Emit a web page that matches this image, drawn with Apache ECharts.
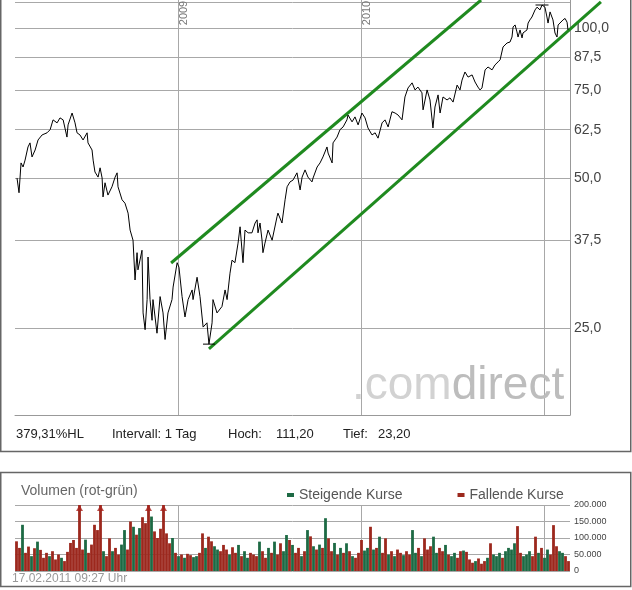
<!DOCTYPE html>
<html><head><meta charset="utf-8">
<script src="https://cdn.jsdelivr.net/npm/echarts@6/dist/echarts.min.js"></script>
<style>html,body{margin:0;padding:0;background:#fff}#c{width:632px;height:590px}</style>
</head><body><div id="c"></div>
<script>
// ---- price series (decimal year, price) ----
const priceYears = [
2008.120,2008.131,2008.142,2008.153,2008.164,2008.180,2008.191,2008.202,2008.219,2008.235,
2008.257,2008.284,2008.301,2008.317,2008.339,2008.355,2008.372,2008.393,2008.399,2008.421,
2008.437,2008.448,2008.464,2008.481,2008.503,2008.508,2008.530,2008.536,2008.546,2008.563,
2008.574,2008.585,2008.590,2008.601,2008.617,2008.639,2008.656,2008.667,2008.672,2008.694,
2008.710,2008.727,2008.738,2008.754,2008.765,2008.776,2008.781,2008.803,2008.809,2008.820,
2008.831,2008.836,2008.847,2008.858,2008.863,2008.885,2008.902,2008.918,2008.929,2008.945,
2008.967,2008.973,2008.995,2009.005,2009.022,2009.038,2009.055,2009.077,2009.082,2009.104,
2009.120,2009.137,2009.158,2009.169,2009.186,2009.191,2009.213,2009.240,2009.257,2009.268,
2009.284,2009.295,2009.311,2009.328,2009.339,2009.355,2009.366,2009.383,2009.404,2009.421,
2009.432,2009.437,2009.448,2009.459,2009.464,2009.475,2009.492,2009.514,2009.541,2009.546,
2009.568,2009.585,2009.596,2009.612,2009.628,2009.650,2009.667,2009.678,2009.694,2009.710,
2009.732,2009.738,2009.760,2009.776,2009.792,2009.814,2009.820,2009.842,2009.847,2009.869,
2009.885,2009.902,2009.923,2009.929,2009.951,2009.967,2009.984,2010.005,2010.022,2010.038,
2010.060,2010.077,2010.093,2010.115,2010.131,2010.148,2010.169,2010.186,2010.202,2010.224,
2010.240,2010.257,2010.279,2010.295,2010.311,2010.333,2010.339,2010.361,2010.377,2010.393,
2010.404,2010.421,2010.432,2010.448,2010.470,2010.486,2010.503,2010.525,2010.541,2010.552,
2010.568,2010.585,2010.607,2010.623,2010.639,2010.650,2010.661,2010.678,2010.694,2010.716,
2010.732,2010.749,2010.760,2010.776,2010.798,2010.814,2010.825,2010.831,2010.842,2010.852,
2010.858,2010.869,2010.880,2010.885,2010.907,2010.913,2010.923,2010.934,2010.951,2010.962,
2010.978,2010.989,2011.005,2011.016,2011.022,2011.033,2011.049,2011.060,2011.071,2011.077,
2011.087,2011.104,2011.115,2011.126,2011.131
];
const priceValues = [
50.0,46.7,53.6,52.6,54.3,57.7,58.8,55.1,56.9,59.6,
61.0,61.6,62.5,65.4,64.5,66.0,65.4,60.4,63.9,67.5,
64.5,61.6,61.0,59.6,61.6,58.8,56.9,54.3,51.4,50.2,
52.4,50.0,45.8,48.9,46.2,48.0,50.2,51.2,48.0,45.2,
44.5,42.5,39.3,37.5,31.2,35.4,32.7,35.8,26.8,24.8,
28.5,34.7,28.5,25.9,28.5,24.4,28.9,26.8,23.7,26.8,
28.5,30.2,33.8,33.1,28.9,26.3,28.5,29.8,28.5,31.6,
28.9,25.1,25.6,23.2,25.6,28.5,26.8,27.6,29.8,28.5,
32.2,34.2,33.8,37.0,39.9,33.8,39.3,38.8,38.8,40.6,
41.2,38.8,40.6,37.5,35.4,37.0,39.3,37.5,41.8,42.5,
40.6,45.2,48.0,49.1,49.5,51.2,47.3,50.2,51.9,50.2,
49.1,50.0,52.6,53.6,55.1,57.7,56.1,53.6,58.8,60.4,
62.5,63.3,65.4,66.9,64.8,66.3,63.9,67.5,66.0,63.0,
61.0,61.6,60.1,64.5,65.4,63.3,67.9,67.5,66.9,65.4,
72.7,75.8,77.6,75.1,76.1,74.1,68.5,75.1,71.7,63.0,
69.4,73.4,67.5,72.7,71.7,72.4,71.0,76.8,75.1,78.6,
81.6,79.7,80.5,77.9,76.1,75.1,75.8,82.4,83.5,82.4,
84.3,85.5,86.3,91.6,93.3,93.7,95.9,100.5,101.4,98.2,
95.9,99.1,95.5,97.7,99.1,102.3,103.8,105.2,108.7,110.1,
108.7,111.2,110.1,105.2,102.3,107.7,103.8,97.7,95.9,101.4,
100.5,103.8,104.5,102.7,99.1
];
// trend channel endpoints (decimal year, price)
const upperChannel = [[2008.962, 33.75], [2010.656, 113.8]];
const lowerChannel = [[2009.169, 22.69], [2011.311, 112.8]];

// axes
const xMin = 2008.109, xMax = 2011.142;
const yearTicks = [2009, 2010, 2011];
const yearLabels = ['2009', '2010'];
const yMin = 16.72, yMax = 113.8;
const priceGridTicks = [25, 37.5, 50, 62.5, 75, 87.5, 100, 112.5];
const priceLabelTicks = [25, 37.5, 50, 62.5, 75, 87.5, 100];
const volTicksMax = 200; // thousands

// ---- volume (thousands), roughly every 3 trading days ----
const volumes = [
90,70,140,55,74,45,69,89,64,40,
55,45,60,35,50,40,30,58,85,94,
70,250,65,95,55,80,140,124,250,60,
45,99,60,70,50,80,124,65,150,134,
110,130,163,145,250,165,120,100,128,250,
114,84,100,55,45,50,40,52,48,42,
45,55,114,70,104,90,75,65,60,79,
65,50,72,55,79,45,60,40,55,50,
45,89,60,40,70,55,89,50,84,60,
109,94,79,55,70,45,60,124,105,75,
65,80,70,160,99,60,85,50,70,55,
84,60,45,40,55,94,62,70,134,65,
70,104,55,99,50,60,45,65,55,48,
60,50,124,55,70,45,99,65,75,104,
55,70,60,79,50,45,55,40,60,62,
58,35,25,30,38,22,30,40,84,50,
45,55,40,60,70,65,84,136,55,45,
50,60,45,104,55,70,40,65,50,139,
75,60,55,45,30
];
// u = steigend (rising), d = fallend (falling)
const volumeDirs = [
"dduddududd","dudddudddd","dddudddddu","ddudduuddu","dudddudddd",
"ddudududdu","uddudduudd","dudduduudd","duddududdu","ududdududu",
"dududdudud","ududdduudu","duddududdu","dduududddu","udduduuddu",
"dddudddudu","uuduuuuddu","uudduduudd","duudd"
].join('');

const FONT = '"Liberation Sans", Arial, sans-serif';
const priceData = priceYears.map((y, i) => [y, priceValues[i]]);
const volCats = volumes.map((v, i) => 'w' + i);
const upVol = volumes.map((v, i) => volumeDirs[i] === 'u' ? v : '-');
const downVol = volumes.map((v, i) => volumeDirs[i] !== 'u' ? v : '-');
const arrowVol = volumes.map(v => v > volTicksMax ? volTicksMax : '-');
const hoch = Math.max(...priceValues), tief = Math.min(...priceValues);
const de = (v, d) => v.toFixed(d).replace('.', ',');
const hlPct = de((hoch / tief - 1) * 100, 2) + '%HL';

// layout of the price plot (px) and an overlay plot that extends further right
const plotLeft = 15, plotRight = 570, overlayRight = 612;
const pxPerYear = (plotRight - plotLeft) / (xMax - xMin);
const xMaxOverlay = xMin + (overlayRight - plotLeft) / pxPerYear;

const chart = echarts.init(document.getElementById('c'));
const gridLine = { show: true, lineStyle: { color: '#a8a8a8', width: 1 } };
const hidden = { axisLine: { show: false }, axisTick: { show: false }, axisLabel: { show: false }, splitLine: { show: false } };
const option = {
  animation: false,
  backgroundColor: '#fff',
  textStyle: { fontFamily: FONT },
  grid: [
    { left: plotLeft, right: 632 - plotRight, top: 0, height: 415 },
    { left: plotLeft, right: 632 - plotRight, top: 505, height: 66 },
    { left: plotLeft, right: 632 - overlayRight, top: 0, height: 415 }
  ],
  legend: {
    left: 282, top: 483, icon: 'rect', itemWidth: 7, itemHeight: 4, itemGap: 55,
    selectedMode: false,
    data: ['Steigende Kurse', 'Fallende Kurse'],
    textStyle: { fontSize: 14, color: '#555', fontFamily: FONT }
  },
  xAxis: [
    { type: 'value', gridIndex: 0, min: xMin, max: xMax,
      axisLine: { show: true, onZero: false, lineStyle: { color: '#999' } },
      axisTick: { show: false, customValues: yearTicks },
      axisLabel: { show: false }, splitLine: gridLine },
    { type: 'category', gridIndex: 1, data: volCats, boundaryGap: true, ...hidden },
    { type: 'value', gridIndex: 1, min: xMin, max: xMax,
      axisLine: { show: false }, axisTick: { show: false, customValues: yearTicks },
      axisLabel: { show: false }, splitLine: gridLine },
    { type: 'value', gridIndex: 2, min: xMin, max: xMaxOverlay, ...hidden }
  ],
  yAxis: [
    { type: 'log', gridIndex: 0, position: 'right', min: yMin, max: yMax,
      axisLine: { show: true, lineStyle: { color: '#999' } },
      axisTick: { show: false, customValues: priceGridTicks },
      axisLabel: { customValues: priceLabelTicks, margin: 4, color: '#444', fontSize: 14, fontFamily: FONT,
        formatter: v => de(v, 1) },
      splitLine: gridLine },
    { type: 'value', gridIndex: 1, position: 'right', min: 0, max: volTicksMax, interval: 50,
      axisLine: { show: false }, axisTick: { show: false },
      axisLabel: { margin: 4, color: '#444', fontSize: 9, fontFamily: FONT,
        formatter: v => v === 0 ? '0' : v + '.000' },
      splitLine: gridLine },
    { type: 'log', gridIndex: 2, min: yMin, max: yMax, ...hidden }
  ],
  series: [
    { type: 'line', name: 'Kurs', xAxisIndex: 0, yAxisIndex: 0, data: priceData,
      showSymbol: false, symbol: 'none', lineStyle: { color: '#000', width: 1 }, z: 5,
      markPoint: { symbol: 'rect', silent: true, label: { show: false },
        itemStyle: { color: '#000' },
        data: [ { type: 'max', symbolSize: [13, 1] }, { type: 'min', symbolSize: [12, 1] } ] } },
    { type: 'line', name: 'oben', xAxisIndex: 3, yAxisIndex: 2, data: upperChannel, clip: false,
      showSymbol: false, symbol: 'none', lineStyle: { color: '#1f8a1f', width: 3 }, z: 4 },
    { type: 'line', name: 'unten', xAxisIndex: 3, yAxisIndex: 2, data: lowerChannel, clip: false,
      showSymbol: false, symbol: 'none', lineStyle: { color: '#1f8a1f', width: 3 }, z: 4 },
    { type: 'bar', name: 'Steigende Kurse', xAxisIndex: 1, yAxisIndex: 1, data: upVol,
      barWidth: 2.8, barGap: '-100%', itemStyle: { color: '#1d6a44' } },
    { type: 'bar', name: 'Fallende Kurse', xAxisIndex: 1, yAxisIndex: 1, data: downVol,
      barWidth: 2.8, barGap: '-100%', itemStyle: { color: '#9c281d' } },
    { type: 'scatter', name: 'Pfeil', xAxisIndex: 1, yAxisIndex: 1, data: arrowVol,
      symbol: 'triangle', symbolSize: [7, 6], symbolOffset: [0, 3], itemStyle: { color: '#a8231d' }, z: 6 }
  ]
};
chart.setOption(option);

const graphics = [
  { type: 'rect', shape: { x: 0.75, y: -5, width: 630, height: 456.5 }, style: { fill: null, stroke: '#666', lineWidth: 1.5 }, silent: true },
  { type: 'rect', shape: { x: 0.75, y: 472.5, width: 630, height: 114 }, style: { fill: null, stroke: '#666', lineWidth: 1.5 }, silent: true },
  { type: 'text', x: 352, y: 386, z: 0, silent: true,
    style: { text: '{a|.com}{b|direct}', verticalAlign: 'middle',
      rich: { a: { fontSize: 46, fill: '#d2d2d2', fontFamily: FONT }, b: { fontSize: 46, fill: '#bdbdbd', fontFamily: FONT } } } },
  { type: 'text', x: 16, y: 434, style: { text: hlPct, font: '13px ' + FONT, fill: '#222', verticalAlign: 'middle' } },
  { type: 'text', x: 112, y: 434, style: { text: 'Intervall: 1 Tag', font: '13px ' + FONT, fill: '#222', verticalAlign: 'middle' } },
  { type: 'text', x: 228, y: 434, style: { text: 'Hoch:', font: '13px ' + FONT, fill: '#222', verticalAlign: 'middle' } },
  { type: 'text', x: 276, y: 434, style: { text: de(hoch, 2), font: '13px ' + FONT, fill: '#222', verticalAlign: 'middle' } },
  { type: 'text', x: 343, y: 434, style: { text: 'Tief:', font: '13px ' + FONT, fill: '#222', verticalAlign: 'middle' } },
  { type: 'text', x: 378, y: 434, style: { text: de(tief, 2), font: '13px ' + FONT, fill: '#222', verticalAlign: 'middle' } },
  { type: 'text', x: 21, y: 491, style: { text: 'Volumen (rot-grün)', font: '14px ' + FONT, fill: '#666', verticalAlign: 'middle' } },
  { type: 'text', x: 12, y: 579, style: { text: '17.02.2011 09:27 Uhr', font: '12px ' + FONT, fill: '#999', verticalAlign: 'middle' } }
];
yearLabels.forEach(lbl => {
  const px = chart.convertToPixel({ xAxisIndex: 0 }, Number(lbl));
  graphics.push({ type: 'text', x: px + 6, y: 13, rotation: Math.PI / 2,
    style: { text: lbl, font: '11px ' + FONT, fill: '#777', align: 'center', verticalAlign: 'middle' } });
});
chart.setOption({ graphic: graphics });
</script>
</body></html>
